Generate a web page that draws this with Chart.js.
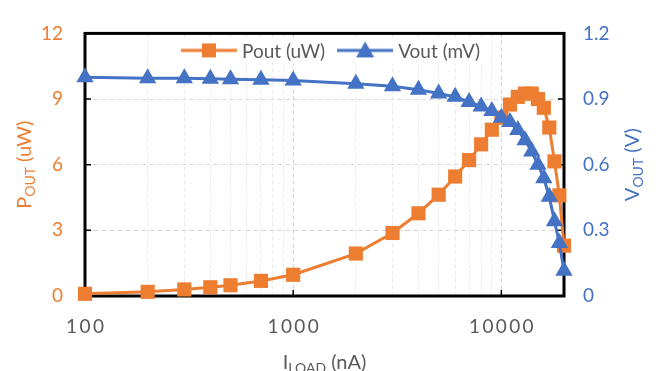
<!DOCTYPE html>
<html>
<head>
<meta charset="utf-8">
<script src="https://cdn.jsdelivr.net/npm/chart.js@4"></script>
<style>
  html, body { margin: 0; padding: 0; background: #fff; }
  canvas { display: block; }
</style>
</head>
<body>
<canvas id="chart" width="656" height="371"></canvas>
<script>
// load current (nA) and the two measured series
const iLoad = [100, 200, 300, 400, 500, 700, 1000, 2000, 3000, 4000, 5000, 6000, 7000, 8000, 9000,
               10000, 11000, 12000, 13000, 14000, 15000, 16000, 17000, 18000, 19000, 20000];
const pOut = [0.10, 0.19, 0.30, 0.40, 0.49, 0.69, 0.97, 1.94, 2.88, 3.78, 4.63, 5.46, 6.21, 6.93, 7.60,
              8.15, 8.75, 9.10, 9.25, 9.25, 9.00, 8.60, 7.70, 6.15, 4.60, 2.30];
const vOut = [1.00, 0.995, 0.995, 0.993, 0.99, 0.988, 0.985, 0.97, 0.958, 0.943, 0.925, 0.91, 0.887, 0.866, 0.845,
              0.815, 0.795, 0.758, 0.712, 0.66, 0.60, 0.538, 0.453, 0.342, 0.242, 0.115];

// axis ticks
const xTickValues = [100, 200, 300, 400, 500, 600, 700, 800, 900,
                     1000, 2000, 3000, 4000, 5000, 6000, 7000, 8000, 9000, 10000, 20000];
const xTickLabels = ['100', '1000', '10000'];
const leftTicks = [0, 3, 6, 9, 12];
const rightTicks = [0, 0.3, 0.6, 0.9, 1.2];

const ORANGE = '#ED7D31';
const BLUE = '#4472C4';
const GREY = '#595959';
const FONT = 'Lato, "Open Sans", sans-serif';

// legend swatch: line with marker, like the spreadsheet legend
function swatch(color, shape) {
    const c = document.createElement('canvas');
    c.width = 56; c.height = 20;
    const g = c.getContext('2d');
    g.strokeStyle = color; g.fillStyle = color; g.lineWidth = 3;
    g.beginPath(); g.moveTo(0, 10); g.lineTo(56, 10); g.stroke();
    g.beginPath();
    if (shape === 'rect') {
        g.rect(28 - 7, 10 - 7, 14, 14);
    } else {
        g.moveTo(28, 10 - 9); g.lineTo(28 + 9, 10 + 7); g.lineTo(28 - 9, 10 + 7); g.closePath();
    }
    g.fill();
    return c;
}

// draw text with a subscript part, centred on (0,0)
function richText(ctx, parts, size) {
    const subSize = Math.round(size * 0.68);
    let total = 0;
    parts.forEach(p => {
        ctx.font = (p.sub ? subSize : size) + 'px ' + FONT;
        p.w = ctx.measureText(p.t).width;
        total += p.w;
    });
    let x = -total / 2;
    ctx.textBaseline = 'alphabetic';
    ctx.textAlign = 'left';
    parts.forEach(p => {
        ctx.font = (p.sub ? subSize : size) + 'px ' + FONT;
        ctx.fillText(p.t, x, p.sub ? size * 0.35 + 4 : size * 0.35);
        x += p.w;
    });
}

const legendItems = [
    { text: 'Pout (uW)', img: swatch(ORANGE, 'rect') },
    { text: 'Vout (mV)', img: swatch(BLUE, 'triangle') }
];

const decor = {
    id: 'decor',
    beforeDatasetsDraw(chart) {
        const { ctx, chartArea: a, scales } = chart;
        ctx.save();
        ctx.strokeStyle = '#000';
        ctx.lineWidth = 1.5;
        // inside tick marks
        ctx.beginPath();
        [3, 6, 9].forEach(v => {
            const y = scales.y.getPixelForValue(v);
            ctx.moveTo(a.left, y); ctx.lineTo(a.left + 6, y);
        });
        [0.3, 0.6, 0.9].forEach(v => {
            const y = scales.y2.getPixelForValue(v);
            ctx.moveTo(a.right, y); ctx.lineTo(a.right - 6, y);
        });
        [1000, 10000].forEach(v => {
            const x = scales.x.getPixelForValue(v);
            ctx.moveTo(x, a.bottom); ctx.lineTo(x, a.bottom - 6);
        });
        ctx.stroke();

        // legend inside the plot, top centre, on a white box
        ctx.font = '19px ' + FONT;
        ctx.textBaseline = 'middle';
        ctx.textAlign = 'left';
        const gap = 5, sep = 12;
        let total = 0;
        legendItems.forEach(it => { it.w = ctx.measureText(it.text).width; total += 56 + gap + it.w; });
        total += sep;
        let x = (a.left + a.right) / 2 + 6 - total / 2;
        const y = a.top + 17;
        ctx.fillStyle = '#fff';
        ctx.fillRect(x - 6, y - 12, total + 12, 25);
        legendItems.forEach(it => {
            ctx.drawImage(it.img, x, y - 10);
            ctx.fillStyle = GREY;
            ctx.fillText(it.text, x + 56 + gap, y + 1);
            x += 56 + gap + it.w + sep;
        });

        ctx.strokeStyle = '#000';
        ctx.lineWidth = 3;
        ctx.strokeRect(a.left, a.top, a.right - a.left, a.bottom - a.top);
        ctx.restore();
    },
    afterDraw(chart) {
        const { ctx, chartArea: a } = chart;
        const midY = (a.top + a.bottom) / 2;
        ctx.save();
        ctx.fillStyle = ORANGE;
        ctx.translate(24, midY); ctx.rotate(-Math.PI / 2);
        richText(ctx, [{ t: 'P' }, { t: 'OUT', sub: true }, { t: ' (uW)' }], 20);
        ctx.restore();

        ctx.save();
        ctx.fillStyle = BLUE;
        ctx.translate(632, midY); ctx.rotate(-Math.PI / 2);
        richText(ctx, [{ t: 'V' }, { t: 'OUT', sub: true }, { t: ' (V)' }], 20);
        ctx.restore();

        ctx.save();
        ctx.fillStyle = GREY;
        ctx.translate((a.left + a.right) / 2, 362);
        richText(ctx, [{ t: 'I' }, { t: 'LOAD', sub: true }, { t: ' (nA)' }], 20);
        ctx.restore();
    }
};

new Chart(document.getElementById('chart'), {
    type: 'line',
    data: {
        datasets: [{
            label: 'Pout (uW)',
            data: iLoad.map((x, i) => ({ x: x, y: pOut[i] })),
            yAxisID: 'y',
            borderColor: ORANGE,
            backgroundColor: ORANGE,
            borderWidth: 3,
            pointStyle: 'rect',
            pointRadius: 10,
            pointBorderWidth: 0,
            tension: 0,
            clip: false,
            order: 1
        }, {
            label: 'Vout (mV)',
            data: iLoad.map((x, i) => ({ x: x, y: vOut[i] })),
            yAxisID: 'y2',
            borderColor: BLUE,
            backgroundColor: BLUE,
            borderWidth: 3,
            pointStyle: 'triangle',
            pointRadius: 10,
            pointBorderWidth: 0,
            tension: 0,
            clip: false,
            order: 0
        }]
    },
    options: {
        responsive: false,
        animation: false,
        layout: { padding: { top: 22, left: 0, right: 0, bottom: 0 } },
        plugins: {
            tooltip: { enabled: false },
            legend: { display: false }
        },
        scales: {
            x: {
                type: 'logarithmic',
                min: 100,
                max: 20000,
                afterBuildTicks: (s) => { s.ticks = xTickValues.map(v => ({ value: v, major: xTickLabels.includes(String(v)) })); },
                afterFit: (s) => { s.height = 75; },
                border: { display: false, dash: [4, 3] },
                grid: {
                    drawTicks: false,
                    color: (c) => {
                        const v = c.tick && c.tick.value;
                        if (v === 100 || v === 20000) return 'rgba(0,0,0,0)';
                        return xTickLabels.includes(String(v)) ? '#D0D0D0' : '#EAEAEA';
                    }
                },
                ticks: {
                    autoSkip: false,
                    maxRotation: 0,
                    padding: 19,
                    color: GREY,
                    font: { family: FONT, size: 19 },
                    callback: (v) => xTickLabels.includes(String(v)) ? String(v).split('').join('\u200A\u200A') : ''
                }
            },
            y: {
                position: 'left',
                min: 0,
                max: 12,
                afterBuildTicks: (s) => { s.ticks = leftTicks.map(v => ({ value: v })); },
                afterFit: (s) => { s.width = 85; },
                border: { display: false, dash: [5, 3] },
                grid: {
                    drawTicks: false,
                    color: (c) => (c.tick && (c.tick.value === 0 || c.tick.value === 12)) ? 'rgba(0,0,0,0)' : '#D9D9D9'
                },
                ticks: {
                    padding: 22,
                    color: ORANGE,
                    font: { family: FONT, size: 19 },
                    callback: (v) => String(v)
                }
            },
            y2: {
                position: 'right',
                min: 0,
                max: 1.2,
                afterBuildTicks: (s) => { s.ticks = rightTicks.map(v => ({ value: v })); },
                afterFit: (s) => { s.width = 92; },
                border: { display: false },
                grid: { drawOnChartArea: false, drawTicks: false },
                ticks: {
                    padding: 19,
                    color: BLUE,
                    font: { family: FONT, size: 19 },
                    callback: (v) => v === 0 ? '0' : v.toFixed(1)
                }
            }
        }
    },
    plugins: [decor]
});
</script>
</body>
</html>
